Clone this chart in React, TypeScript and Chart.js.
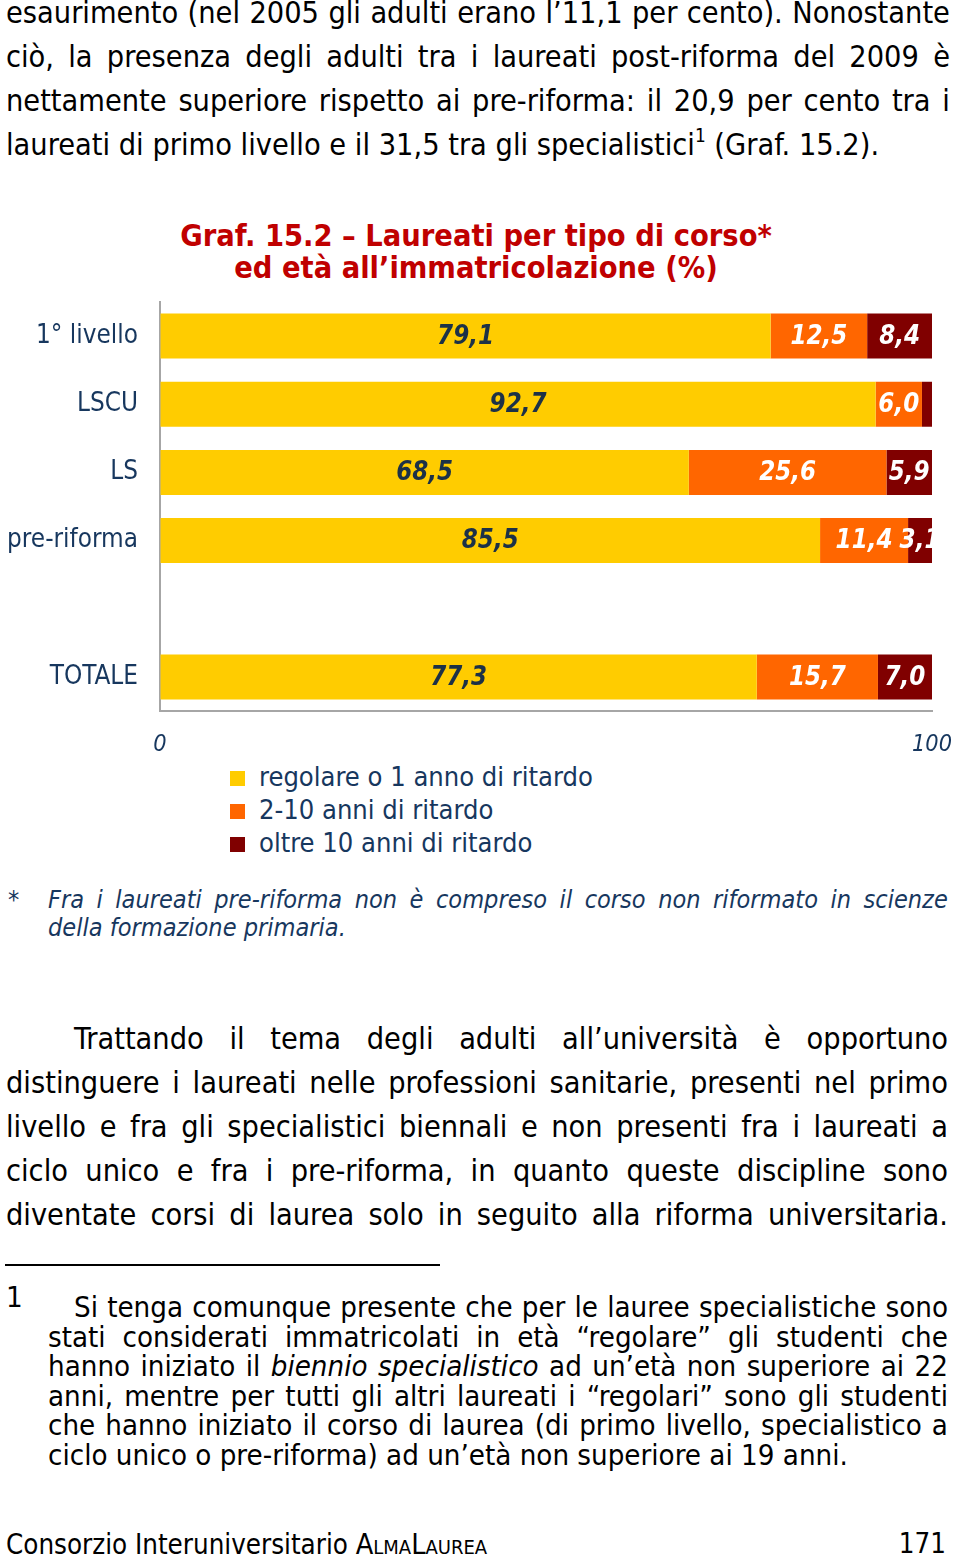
import React, { useEffect, useRef } from 'react';
import { Chart, registerables } from 'chart.js';

Chart.register(...registerables);

const FONT = '"DejaVu Sans Condensed", "DejaVu Sans", sans-serif';
const NAVY = '#17375e';

// ---- chart data ----
const categories = ['1° livello', 'LSCU', 'LS', 'pre-riforma', '', 'TOTALE'];
const regolare = [79.1, 92.7, 68.5, 85.5, null, 77.3];
const ritardo2_10 = [12.5, 6.0, 25.6, 11.4, null, 15.7];
const oltre10 = [8.4, 1.3, 5.9, 3.1, null, 7.0];
const seriesNames = ['regolare o 1 anno di ritardo', '2-10 anni di ritardo', 'oltre 10 anni di ritardo'];
const seriesColors = ['#FFCC00', '#FF6600', '#800000'];
const xTickValues = [0, 100];

// ---- page text ----
const para1 = [
  'esaurimento (nel 2005 gli adulti erano l’11,1 per cento). Nonostante',
  'ciò, la presenza degli adulti tra i laureati post-riforma del 2009 è',
  'nettamente superiore rispetto ai pre-riforma: il 20,9 per cento tra i',
];
const para1Last = 'laureati di primo livello e il 31,5 tra gli specialistici';
const para1Tail = ' (Graf. 15.2).';
const titleLines = ['Graf. 15.2 – Laureati per tipo di corso*', 'ed età all’immatricolazione (%)'];
const noteStar = [
  'Fra i laureati pre-riforma non è compreso il corso non riformato in scienze',
  'della formazione primaria.',
];
const para2 = [
  'Trattando il tema degli adulti all’università è opportuno',
  'distinguere i laureati nelle professioni sanitarie, presenti nel primo',
  'livello e fra gli specialistici biennali e non presenti fra i laureati a',
  'ciclo unico e fra i pre-riforma, in quanto queste discipline sono',
  'diventate corsi di laurea solo in seguito alla riforma universitaria.',
];
const note1 = [
  'Si tenga comunque presente che per le lauree specialistiche sono',
  'stati considerati immatricolati in età “regolare” gli studenti che',
  'hanno iniziato il _biennio _specialistico ad un’età non superiore ai 22',
  'anni, mentre per tutti gli altri laureati i “regolari” sono gli studenti',
  'che hanno iniziato il corso di laurea (di primo livello, specialistico a',
  'ciclo unico o pre-riforma) ad un’età non superiore ai 19 anni.',
];

let mctx: CanvasRenderingContext2D | null = null;
function measure(text: string, font: string): number {
  if (!mctx) mctx = document.createElement('canvas').getContext('2d');
  mctx!.font = font;
  return mctx!.measureText(text).width;
}
function fit(text: string, width: number, weight = 'normal', style = 'normal'): number {
  const base = 40;
  return (base * width) / measure(text, `${style} ${weight} ${base}px ${FONT}`);
}

type LineProps = {
  x: number;
  y: number;
  w: number;
  size: number;
  text: string;
  justify?: boolean;
  color?: string;
  italic?: boolean;
  weight?: string;
  align?: 'left' | 'center' | 'right';
};

function TextLine({ x, y, w, size, text, justify = true, color = '#000', italic = false, weight = 'normal', align = 'left' }: LineProps) {
  const words = text.split(' ');
  return (
    <div
      style={{
        position: 'absolute',
        left: x,
        top: y - size * 0.62,
        width: w,
        height: size * 1.2,
        fontSize: size,
        lineHeight: `${size * 1.2}px`,
        fontFamily: FONT,
        color,
        fontStyle: italic ? 'italic' : 'normal',
        fontWeight: weight as any,
        display: 'flex',
        justifyContent: justify ? 'space-between' : align === 'center' ? 'center' : align === 'right' ? 'flex-end' : 'flex-start',
        whiteSpace: 'pre',
      }}
    >
      {justify
        ? words.map((wd, i) => (
            <span key={i} style={wd.startsWith('_') ? { fontStyle: 'italic' } : undefined}>
              {wd.replace(/_/g, '')}
            </span>
          ))
        : <span>{text}</span>}
    </div>
  );
}

const dataLabelPlugin = {
  id: 'segmentLabels',
  afterDatasetsDraw(chart: any) {
    const ctx = chart.ctx as CanvasRenderingContext2D;
    const ca = chart.chartArea;
    const size = fit('79,1', 57, 'bold', 'italic');
    ctx.save();
    ctx.beginPath();
    ctx.rect(ca.left, ca.top - 20, ca.right - ca.left + 3, ca.bottom - ca.top + 40);
    ctx.clip();
    ctx.font = `italic bold ${size}px ${FONT}`;
    ctx.textAlign = 'center';
    ctx.textBaseline = 'middle';
    chart.data.datasets.forEach((ds: any, i: number) => {
      const meta = chart.getDatasetMeta(i);
      meta.data.forEach((el: any, j: number) => {
        const v = ds.data[j];
        if (v == null || v < 2) return;
        const p = el.getProps(['x', 'base', 'y'], true);
        ctx.fillStyle = i === 0 ? '#1c3147' : '#ffffff';
        ctx.fillText(v.toFixed(1).replace('.', ','), (p.x + p.base) / 2, p.y + 1);
      });
    });
    ctx.restore();
  },
};

function BarChart() {
  const ref = useRef<HTMLCanvasElement | null>(null);
  useEffect(() => {
    if (!ref.current) return;
    const catSize = fit('pre-riforma', 131);
    const tickSize = fit('100', 40, 'normal', 'italic');
    const chart = new Chart(ref.current, {
      type: 'bar',
      data: {
        labels: categories,
        datasets: [regolare, ritardo2_10, oltre10].map((d, i) => ({
          label: seriesNames[i],
          data: d as any,
          backgroundColor: seriesColors[i],
          borderWidth: 0,
          categoryPercentage: 1,
          barPercentage: 0.66,
        })),
      },
      options: {
        indexAxis: 'y',
        animation: false,
        responsive: false,
        layout: { padding: { top: 12, right: 28, left: 0, bottom: 0 } },
        plugins: { legend: { display: false }, tooltip: { enabled: false } },
        scales: {
          x: {
            stacked: true,
            min: 0,
            max: 100,
            afterBuildTicks: (s: any) => {
              s.ticks = xTickValues.map((v) => ({ value: v }));
            },
            grid: { color: 'transparent', drawTicks: false },
            border: { display: true, color: '#a6a6a6', width: 2 },
            ticks: {
              font: { family: FONT, size: tickSize, style: 'italic' },
              color: NAVY,
              padding: 20,
              maxRotation: 0,
              autoSkip: false,
            },
            afterFit: (s: any) => {
              s.height = 49;
              s.paddingLeft = 0;
              s.paddingRight = 0;
            },
          },
          y: {
            stacked: true,
            grid: { color: 'transparent', drawTicks: false },
            border: { display: true, color: '#a6a6a6', width: 2 },
            ticks: { font: { family: FONT, size: catSize }, color: NAVY, padding: 22 },
            afterFit: (s: any) => {
              s.width = 160;
              s.paddingTop = 0;
              s.paddingBottom = 0;
            },
          },
        },
      },
      plugins: [dataLabelPlugin],
    });
    return () => chart.destroy();
  }, []);
  return (
    <div style={{ position: 'absolute', left: 0, top: 290, width: 960, height: 470 }}>
      <canvas ref={ref} width={960} height={470} style={{ width: 960, height: 470 }} />
    </div>
  );
}

export default function App() {
  const bodySize = fit(para1Last, 689);
  const titleSize = fit(titleLines[0], 592, 'bold');
  const starSize = fit(noteStar[1], 298, 'normal', 'italic');
  const noteSize = fit(note1[5], 800);
  const legendSize = fit(seriesNames[0], 334);
  const footerSize = fit('Consorzio Interuniversitario', 342);

  return (
    <div style={{ position: 'absolute', left: 0, top: 0, width: 960, height: 1558, background: '#fff', overflow: 'hidden', fontFamily: FONT }}>
      {para1.map((t, i) => (
        <TextLine key={'p1' + i} x={6} y={14 + i * 44} w={944} size={bodySize} text={t} />
      ))}
      <div
        style={{
          position: 'absolute',
          left: 6,
          top: 146 - bodySize * 0.62,
          height: bodySize * 1.2,
          fontSize: bodySize,
          lineHeight: `${bodySize * 1.2}px`,
          whiteSpace: 'pre',
          fontFamily: FONT,
        }}
      >
        {para1Last}
        <span style={{ fontSize: bodySize * 0.62, position: 'relative', top: -bodySize * 0.42, lineHeight: 0 }}>1</span>
        {para1Tail}
      </div>

      {titleLines.map((t, i) => (
        <TextLine key={'t' + i} x={176} y={237 + i * 32} w={600} size={titleSize} text={t} justify={false} align="center" color="#c00000" weight="bold" />
      ))}

      <BarChart />

      {seriesNames.map((n, i) => (
        <React.Fragment key={'lg' + i}>
          <div style={{ position: 'absolute', left: 230, top: 771 + i * 33, width: 15, height: 15, background: seriesColors[i] }} />
          <TextLine x={259} y={778 + i * 33} w={500} size={legendSize} text={n} justify={false} color={NAVY} />
        </React.Fragment>
      ))}

      <TextLine x={8} y={901} w={20} size={starSize} text="*" justify={false} color={NAVY} />
      <TextLine x={48} y={901} w={900} size={starSize} text={noteStar[0]} italic color={NAVY} />
      <TextLine x={48} y={929} w={900} size={starSize} text={noteStar[1]} italic justify={false} color={NAVY} />

      {para2.map((t, i) => (
        <TextLine key={'p2' + i} x={i === 0 ? 74 : 6} y={1040 + i * 44} w={i === 0 ? 874 : 942} size={bodySize} text={t} />
      ))}

      <div style={{ position: 'absolute', left: 5, top: 1264, width: 435, height: 2, background: '#000' }} />

      <TextLine x={6} y={1298} w={20} size={noteSize} text="1" justify={false} />
      {note1.map((t, i) => (
        <TextLine
          key={'n1' + i}
          x={i === 0 ? 74 : 48}
          y={[1308, 1338, 1367, 1397, 1426, 1456][i]}
          w={i === 0 ? 874 : 900}
          size={noteSize}
          text={t}
          justify={i < 5}
        />
      ))}

      <div
        style={{
          position: 'absolute',
          left: 6,
          top: 1545 - footerSize * 0.62,
          fontSize: footerSize,
          lineHeight: `${footerSize * 1.2}px`,
          whiteSpace: 'pre',
          fontFamily: FONT,
        }}
      >
        Consorzio Interuniversitario <span style={{ fontVariant: 'small-caps', fontSize: footerSize * 1.04 }}>AlmaLaurea</span>
      </div>
      <TextLine x={846} y={1545} w={100} size={footerSize} text="171" justify={false} align="right" />
    </div>
  );
}
